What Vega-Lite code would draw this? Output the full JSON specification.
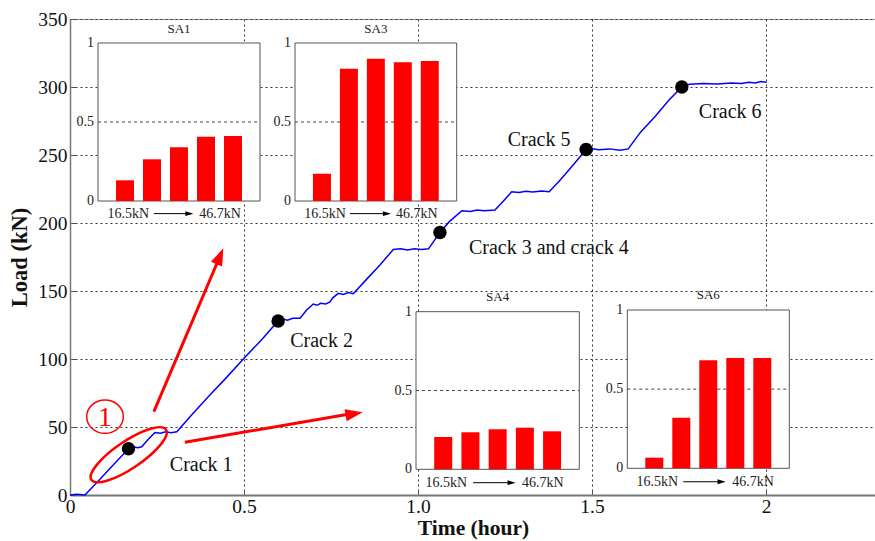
{
  "$schema": "https://vega.github.io/schema/vega-lite/v6.json",
  "width": 806,
  "height": 476,
  "autosize": "none",
  "padding": {"left": 70, "top": 19, "right": 0, "bottom": 46},
  "background": "white",
  "config": {"view": {"stroke": "#999", "strokeWidth": 1}, "font": "Liberation Serif", "text": {"font": "Liberation Serif"}, "mark": {"font": "Liberation Serif"}},
  "datasets": {
    "line": [
      {"t": 0, "L": 0}, {"t": 0.02, "L": 0.5}, {"t": 0.043, "L": 0}, {"t": 0.08, "L": 10}, {"t": 0.12, "L": 21},
      {"t": 0.168, "L": 34}, {"t": 0.18, "L": 35.5}, {"t": 0.195, "L": 34.8}, {"t": 0.206, "L": 35.5}, {"t": 0.225, "L": 41},
      {"t": 0.244, "L": 46}, {"t": 0.26, "L": 45.5}, {"t": 0.275, "L": 46.5}, {"t": 0.29, "L": 45.8}, {"t": 0.307, "L": 46.5},
      {"t": 0.35, "L": 59}, {"t": 0.4, "L": 73}, {"t": 0.45, "L": 86.5}, {"t": 0.5, "L": 100.5}, {"t": 0.55, "L": 114},
      {"t": 0.598, "L": 128}, {"t": 0.61, "L": 129.5}, {"t": 0.625, "L": 128.5}, {"t": 0.64, "L": 130}, {"t": 0.661, "L": 130},
      {"t": 0.68, "L": 136}, {"t": 0.699, "L": 140.4}, {"t": 0.71, "L": 139.5}, {"t": 0.72, "L": 141}, {"t": 0.735, "L": 140.5},
      {"t": 0.747, "L": 142}, {"t": 0.755, "L": 145}, {"t": 0.771, "L": 148.3}, {"t": 0.785, "L": 147.5}, {"t": 0.8, "L": 148.8},
      {"t": 0.814, "L": 148}, {"t": 0.85, "L": 158}, {"t": 0.89, "L": 169}, {"t": 0.929, "L": 180.5}, {"t": 0.95, "L": 181},
      {"t": 0.97, "L": 180.2}, {"t": 0.99, "L": 181}, {"t": 1.01, "L": 180.5}, {"t": 1.03, "L": 181}, {"t": 1.063, "L": 193},
      {"t": 1.09, "L": 201}, {"t": 1.126, "L": 209}, {"t": 1.15, "L": 208.5}, {"t": 1.17, "L": 209.5}, {"t": 1.19, "L": 209},
      {"t": 1.221, "L": 209.5}, {"t": 1.245, "L": 216}, {"t": 1.269, "L": 223}, {"t": 1.29, "L": 222.5}, {"t": 1.31, "L": 223.3},
      {"t": 1.33, "L": 222.8}, {"t": 1.355, "L": 223.5}, {"t": 1.377, "L": 223}, {"t": 1.41, "L": 232}, {"t": 1.45, "L": 244},
      {"t": 1.483, "L": 254}, {"t": 1.5, "L": 254.5}, {"t": 1.52, "L": 253.8}, {"t": 1.55, "L": 254.5}, {"t": 1.58, "L": 253.5},
      {"t": 1.604, "L": 254.5}, {"t": 1.64, "L": 267}, {"t": 1.68, "L": 278}, {"t": 1.72, "L": 290}, {"t": 1.758, "L": 300},
      {"t": 1.78, "L": 302}, {"t": 1.82, "L": 302.5}, {"t": 1.86, "L": 302.2}, {"t": 1.9, "L": 303}, {"t": 1.93, "L": 302.6},
      {"t": 1.95, "L": 303.5}, {"t": 1.97, "L": 303}, {"t": 1.985, "L": 304}, {"t": 2.002, "L": 303.5}
    ],
    "cracks": [
      {"t": 0.168, "L": 34}, {"t": 0.598, "L": 128}, {"t": 1.063, "L": 193}, {"t": 1.483, "L": 254}, {"t": 1.758, "L": 300}
    ],
    "crackLabels": [
      {"t": 0.377, "L": 22, "label": "Crack 1"},
      {"t": 0.723, "L": 113, "label": "Crack 2"},
      {"t": 1.376, "L": 181.6, "label": "Crack 3 and crack 4"},
      {"t": 1.348, "L": 261, "label": "Crack 5"},
      {"t": 1.897, "L": 281.6, "label": "Crack 6"}
    ],
    "arrows": [
      {"id": "a1", "t": 0.241, "L": 61.25}, {"id": "a1", "t": 0.43, "L": 175},
      {"id": "a2", "t": 0.33, "L": 38.75}, {"id": "a2", "t": 0.82, "L": 60.3}
    ],
    "head1": [{"t": 0.4405, "L": 181.4}],
    "head2": [{"t": 0.841, "L": 60.8}],
    "ellipse": [{"t": 0.1687, "L": 29.6}],
    "mark1": [{"t": 0.1006, "L": 57.6, "label": "1"}],
    "sa": [
      {"s": "SA1", "i": 1, "v": 0.131}, {"s": "SA1", "i": 2, "v": 0.264}, {"s": "SA1", "i": 3, "v": 0.34}, {"s": "SA1", "i": 4, "v": 0.407}, {"s": "SA1", "i": 5, "v": 0.411},
      {"s": "SA3", "i": 1, "v": 0.173}, {"s": "SA3", "i": 2, "v": 0.837}, {"s": "SA3", "i": 3, "v": 0.901}, {"s": "SA3", "i": 4, "v": 0.878}, {"s": "SA3", "i": 5, "v": 0.886},
      {"s": "SA4", "i": 1, "v": 0.205}, {"s": "SA4", "i": 2, "v": 0.235}, {"s": "SA4", "i": 3, "v": 0.254}, {"s": "SA4", "i": 4, "v": 0.264}, {"s": "SA4", "i": 5, "v": 0.241},
      {"s": "SA6", "i": 1, "v": 0.067}, {"s": "SA6", "i": 2, "v": 0.32}, {"s": "SA6", "i": 3, "v": 0.682}, {"s": "SA6", "i": 4, "v": 0.697}, {"s": "SA6", "i": 5, "v": 0.697}
    ],
    "ticks": [{"v": 0, "lab": "0"}, {"v": 0.5, "lab": "0.5"}, {"v": 1, "lab": "1"}],
    "labA": [{"x": 1.12, "lab": "16.5kN"}, {"x": 4.52, "lab": "46.7kN"}],
    "labB": [{"x": 1.11, "lab": "16.5kN"}, {"x": 4.66, "lab": "46.7kN"}],
    "one": [{}]
  },
  "resolve": {"scale": {"x": "independent", "y": "independent"}, "axis": {"x": "independent", "y": "independent"}},
  "layer": [
    {
      "layer": [
        {
          "data": {"name": "line"},
          "mark": {"type": "line", "color": "#0000ff", "strokeWidth": 1.5},
          "encoding": {
            "x": {"field": "t", "type": "quantitative", "scale": {"domain": [0, 2.316], "nice": false, "zero": false},
              "axis": {"values": [0, 0.5, 1, 1.5, 2], "title": "Time (hour)", "labelExpr": "datum.value == 1 ? '1.0' : toString(datum.value)",
                "grid": true, "gridColor": "#333", "gridDash": [2, 3], "gridWidth": 1, "gridOpacity": 1,
                "domainColor": "#777", "domainWidth": 2, "ticks": true, "tickSize": -6, "tickColor": "#555",
                "labelFont": "Liberation Serif", "labelFontSize": 19.5, "labelColor": "#111", "labelPadding": 8, "labelFlush": false,
                "titleFont": "Liberation Serif", "titleFontSize": 21.5, "titleFontWeight": "bold", "titleColor": "#111", "titlePadding": 2}},
            "y": {"field": "L", "type": "quantitative", "scale": {"domain": [0, 350], "nice": false},
              "axis": {"values": [0, 50, 100, 150, 200, 250, 300, 350], "title": "Load (kN)",
                "grid": true, "gridColor": "#333", "gridDash": [2, 3], "gridWidth": 1, "gridOpacity": 1,
                "domainColor": "#777", "domainWidth": 1.5, "ticks": true, "tickSize": -6, "tickColor": "#555",
                "labelFont": "Liberation Serif", "labelFontSize": 19.5, "labelColor": "#111", "labelPadding": 9, "labelFlush": false,
                "titleFont": "Liberation Serif", "titleFontSize": 22.5, "titleFontWeight": "bold", "titleColor": "#111", "titlePadding": 6}}
          }
        },
        {
          "data": {"name": "cracks"},
          "mark": {"type": "point", "filled": true, "color": "black", "size": 180, "opacity": 1},
          "encoding": {"x": {"field": "t", "type": "quantitative"}, "y": {"field": "L", "type": "quantitative"}}
        },
        {
          "data": {"name": "crackLabels"},
          "mark": {"type": "text", "font": "Liberation Serif", "fontSize": 20, "color": "#111", "align": "center", "baseline": "middle"},
          "encoding": {"x": {"field": "t", "type": "quantitative"}, "y": {"field": "L", "type": "quantitative"}, "text": {"field": "label"}}
        },
        {
          "data": {"name": "arrows"},
          "mark": {"type": "line", "color": "#ff0000", "strokeWidth": 3},
          "encoding": {"x": {"field": "t", "type": "quantitative"}, "y": {"field": "L", "type": "quantitative"}, "detail": {"field": "id"}}
        },
        {
          "data": {"name": "head1"},
          "mark": {"type": "point", "shape": "M0,0L-0.7,2L0.7,2Z", "size": 300, "filled": true, "color": "#ff0000", "opacity": 1, "angle": 23},
          "encoding": {"x": {"field": "t", "type": "quantitative"}, "y": {"field": "L", "type": "quantitative"}}
        },
        {
          "data": {"name": "head2"},
          "mark": {"type": "point", "shape": "M0,0L-0.7,2L0.7,2Z", "size": 300, "filled": true, "color": "#ff0000", "opacity": 1, "angle": 80},
          "encoding": {"x": {"field": "t", "type": "quantitative"}, "y": {"field": "L", "type": "quantitative"}}
        },
        {
          "data": {"name": "ellipse"},
          "mark": {"type": "point", "shape": "M-1,0A1,0.3,0,1,0,1,0A1,0.3,0,1,0,-1,0Z", "size": 8100, "filled": false, "color": "#ff0000", "strokeWidth": 2.5, "opacity": 1, "angle": 326},
          "encoding": {"x": {"field": "t", "type": "quantitative"}, "y": {"field": "L", "type": "quantitative"}}
        },
        {
          "data": {"name": "mark1"},
          "mark": {"type": "point", "shape": "M-1,0A1,0.91,0,1,0,1,0A1,0.91,0,1,0,-1,0Z", "size": 1340, "filled": false, "color": "#ff0000", "strokeWidth": 1.5, "opacity": 1},
          "encoding": {"x": {"field": "t", "type": "quantitative"}, "y": {"field": "L", "type": "quantitative"}}
        },
        {
          "data": {"name": "mark1"},
          "mark": {"type": "text", "font": "Liberation Serif", "fontSize": 28, "color": "#ff0000", "align": "center", "baseline": "middle", "dy": 1},
          "encoding": {"x": {"field": "t", "type": "quantitative"}, "y": {"field": "L", "type": "quantitative"}, "text": {"field": "label"}}
        }
      ]
    },
    {
      "layer": [
        {"data": {"name": "one"}, "mark": {"type": "rect", "fill": "white", "stroke": "#555", "strokeWidth": 1},
          "encoding": {"x": {"datum": 0, "type": "quantitative", "scale": {"domain": [0, 6], "range": [23, 195], "nice": false, "zero": false}, "axis": null},
            "x2": {"datum": 6}, "y": {"datum": 0, "type": "quantitative", "scale": {"domain": [0, 1], "range": [182, 24], "nice": false}, "axis": null}, "y2": {"datum": 1}}},
        {"data": {"name": "one"}, "mark": {"type": "rule", "color": "#444", "strokeDash": [3, 3], "strokeWidth": 1},
          "encoding": {"x": {"datum": 0, "type": "quantitative"}, "x2": {"datum": 6}, "y": {"datum": 0.5, "type": "quantitative"}}},
        {"data": {"name": "sa"}, "transform": [{"filter": "datum.s == 'SA1'"}], "mark": {"type": "bar", "color": "#ff0000", "width": 18},
          "encoding": {"x": {"field": "i", "type": "quantitative"}, "y": {"field": "v", "type": "quantitative"}}},
        {"data": {"name": "ticks"}, "mark": {"type": "text", "font": "Liberation Serif", "fontSize": 14, "align": "right", "baseline": "middle", "dx": -4, "color": "#222"},
          "encoding": {"x": {"datum": 0, "type": "quantitative"}, "y": {"field": "v", "type": "quantitative"}, "text": {"field": "lab"}}},
        {"data": {"name": "one"}, "mark": {"type": "text", "font": "Liberation Serif", "fontSize": 13, "align": "center", "baseline": "middle", "color": "#222", "text": "SA1"},
          "encoding": {"x": {"datum": 3, "type": "quantitative"}, "y": {"datum": 1.09, "type": "quantitative"}}},
        {"data": {"name": "labA"}, "mark": {"type": "text", "font": "Liberation Serif", "fontSize": 14, "align": "center", "baseline": "middle", "color": "#222"},
          "encoding": {"x": {"field": "x", "type": "quantitative"}, "y": {"datum": -0.08, "type": "quantitative"}, "text": {"field": "lab"}}},
        {"data": {"name": "one"}, "mark": {"type": "rule", "color": "black", "strokeWidth": 1},
          "encoding": {"x": {"datum": 2.07, "type": "quantitative"}, "x2": {"datum": 3.45}, "y": {"datum": -0.08, "type": "quantitative"}}},
        {"data": {"name": "one"}, "mark": {"type": "point", "shape": "M0,0L-0.6,2L0.6,2Z", "size": 64, "filled": true, "color": "black", "opacity": 1, "angle": 90},
          "encoding": {"x": {"datum": 3.53, "type": "quantitative"}, "y": {"datum": -0.08, "type": "quantitative"}}}
      ]
    },
    {
      "layer": [
        {"data": {"name": "one"}, "mark": {"type": "rect", "fill": "white", "stroke": "#555", "strokeWidth": 1},
          "encoding": {"x": {"datum": 0, "type": "quantitative", "scale": {"domain": [0, 6], "range": [220, 391.7], "nice": false, "zero": false}, "axis": null},
            "x2": {"datum": 6}, "y": {"datum": 0, "type": "quantitative", "scale": {"domain": [0, 1], "range": [182, 24], "nice": false}, "axis": null}, "y2": {"datum": 1}}},
        {"data": {"name": "one"}, "mark": {"type": "rule", "color": "#444", "strokeDash": [3, 3], "strokeWidth": 1},
          "encoding": {"x": {"datum": 0, "type": "quantitative"}, "x2": {"datum": 6}, "y": {"datum": 0.5, "type": "quantitative"}}},
        {"data": {"name": "sa"}, "transform": [{"filter": "datum.s == 'SA3'"}], "mark": {"type": "bar", "color": "#ff0000", "width": 18},
          "encoding": {"x": {"field": "i", "type": "quantitative"}, "y": {"field": "v", "type": "quantitative"}}},
        {"data": {"name": "ticks"}, "mark": {"type": "text", "font": "Liberation Serif", "fontSize": 14, "align": "right", "baseline": "middle", "dx": -4, "color": "#222"},
          "encoding": {"x": {"datum": 0, "type": "quantitative"}, "y": {"field": "v", "type": "quantitative"}, "text": {"field": "lab"}}},
        {"data": {"name": "one"}, "mark": {"type": "text", "font": "Liberation Serif", "fontSize": 13, "align": "center", "baseline": "middle", "color": "#222", "text": "SA3"},
          "encoding": {"x": {"datum": 3, "type": "quantitative"}, "y": {"datum": 1.09, "type": "quantitative"}}},
        {"data": {"name": "labA"}, "mark": {"type": "text", "font": "Liberation Serif", "fontSize": 14, "align": "center", "baseline": "middle", "color": "#222"},
          "encoding": {"x": {"field": "x", "type": "quantitative"}, "y": {"datum": -0.08, "type": "quantitative"}, "text": {"field": "lab"}}},
        {"data": {"name": "one"}, "mark": {"type": "rule", "color": "black", "strokeWidth": 1},
          "encoding": {"x": {"datum": 2.04, "type": "quantitative"}, "x2": {"datum": 3.48}, "y": {"datum": -0.08, "type": "quantitative"}}},
        {"data": {"name": "one"}, "mark": {"type": "point", "shape": "M0,0L-0.6,2L0.6,2Z", "size": 64, "filled": true, "color": "black", "opacity": 1, "angle": 90},
          "encoding": {"x": {"datum": 3.56, "type": "quantitative"}, "y": {"datum": -0.08, "type": "quantitative"}}}
      ]
    },
    {
      "layer": [
        {"data": {"name": "one"}, "mark": {"type": "rect", "fill": "white", "stroke": "#555", "strokeWidth": 1},
          "encoding": {"x": {"datum": 0, "type": "quantitative", "scale": {"domain": [0, 6], "range": [341, 514.3], "nice": false, "zero": false}, "axis": null},
            "x2": {"datum": 6}, "y": {"datum": 0, "type": "quantitative", "scale": {"domain": [0, 1], "range": [450.3, 292.7], "nice": false}, "axis": null}, "y2": {"datum": 1}}},
        {"data": {"name": "one"}, "mark": {"type": "rule", "color": "#444", "strokeDash": [3, 3], "strokeWidth": 1},
          "encoding": {"x": {"datum": 0, "type": "quantitative"}, "x2": {"datum": 6}, "y": {"datum": 0.5, "type": "quantitative"}}},
        {"data": {"name": "sa"}, "transform": [{"filter": "datum.s == 'SA4'"}], "mark": {"type": "bar", "color": "#ff0000", "width": 18},
          "encoding": {"x": {"field": "i", "type": "quantitative"}, "y": {"field": "v", "type": "quantitative"}}},
        {"data": {"name": "ticks"}, "mark": {"type": "text", "font": "Liberation Serif", "fontSize": 14, "align": "right", "baseline": "middle", "dx": -4, "color": "#222"},
          "encoding": {"x": {"datum": 0, "type": "quantitative"}, "y": {"field": "v", "type": "quantitative"}, "text": {"field": "lab"}}},
        {"data": {"name": "one"}, "mark": {"type": "text", "font": "Liberation Serif", "fontSize": 13, "align": "center", "baseline": "middle", "color": "#222", "text": "SA4"},
          "encoding": {"x": {"datum": 3, "type": "quantitative"}, "y": {"datum": 1.095, "type": "quantitative"}}},
        {"data": {"name": "labB"}, "mark": {"type": "text", "font": "Liberation Serif", "fontSize": 14, "align": "center", "baseline": "middle", "color": "#222"},
          "encoding": {"x": {"field": "x", "type": "quantitative"}, "y": {"datum": -0.085, "type": "quantitative"}, "text": {"field": "lab"}}},
        {"data": {"name": "one"}, "mark": {"type": "rule", "color": "black", "strokeWidth": 1},
          "encoding": {"x": {"datum": 2.1, "type": "quantitative"}, "x2": {"datum": 3.58}, "y": {"datum": -0.085, "type": "quantitative"}}},
        {"data": {"name": "one"}, "mark": {"type": "point", "shape": "M0,0L-0.6,2L0.6,2Z", "size": 64, "filled": true, "color": "black", "opacity": 1, "angle": 90},
          "encoding": {"x": {"datum": 3.66, "type": "quantitative"}, "y": {"datum": -0.085, "type": "quantitative"}}}
      ]
    },
    {
      "layer": [
        {"data": {"name": "one"}, "mark": {"type": "rect", "fill": "white", "stroke": "#555", "strokeWidth": 1},
          "encoding": {"x": {"datum": 0, "type": "quantitative", "scale": {"domain": [0, 6], "range": [552.3, 724.3], "nice": false, "zero": false}, "axis": null},
            "x2": {"datum": 6}, "y": {"datum": 0, "type": "quantitative", "scale": {"domain": [0, 1], "range": [449.3, 291], "nice": false}, "axis": null}, "y2": {"datum": 1}}},
        {"data": {"name": "one"}, "mark": {"type": "rule", "color": "#444", "strokeDash": [3, 3], "strokeWidth": 1},
          "encoding": {"x": {"datum": 0, "type": "quantitative"}, "x2": {"datum": 6}, "y": {"datum": 0.5, "type": "quantitative"}}},
        {"data": {"name": "sa"}, "transform": [{"filter": "datum.s == 'SA6'"}], "mark": {"type": "bar", "color": "#ff0000", "width": 18},
          "encoding": {"x": {"field": "i", "type": "quantitative"}, "y": {"field": "v", "type": "quantitative"}}},
        {"data": {"name": "ticks"}, "mark": {"type": "text", "font": "Liberation Serif", "fontSize": 14, "align": "right", "baseline": "middle", "dx": -4, "color": "#222"},
          "encoding": {"x": {"datum": 0, "type": "quantitative"}, "y": {"field": "v", "type": "quantitative"}, "text": {"field": "lab"}}},
        {"data": {"name": "one"}, "mark": {"type": "text", "font": "Liberation Serif", "fontSize": 13, "align": "center", "baseline": "middle", "color": "#222", "text": "SA6"},
          "encoding": {"x": {"datum": 3, "type": "quantitative"}, "y": {"datum": 1.095, "type": "quantitative"}}},
        {"data": {"name": "labB"}, "mark": {"type": "text", "font": "Liberation Serif", "fontSize": 14, "align": "center", "baseline": "middle", "color": "#222"},
          "encoding": {"x": {"field": "x", "type": "quantitative"}, "y": {"datum": -0.085, "type": "quantitative"}, "text": {"field": "lab"}}},
        {"data": {"name": "one"}, "mark": {"type": "rule", "color": "black", "strokeWidth": 1},
          "encoding": {"x": {"datum": 2.07, "type": "quantitative"}, "x2": {"datum": 3.56}, "y": {"datum": -0.085, "type": "quantitative"}}},
        {"data": {"name": "one"}, "mark": {"type": "point", "shape": "M0,0L-0.6,2L0.6,2Z", "size": 64, "filled": true, "color": "black", "opacity": 1, "angle": 90},
          "encoding": {"x": {"datum": 3.64, "type": "quantitative"}, "y": {"datum": -0.085, "type": "quantitative"}}}
      ]
    }
  ]
}
